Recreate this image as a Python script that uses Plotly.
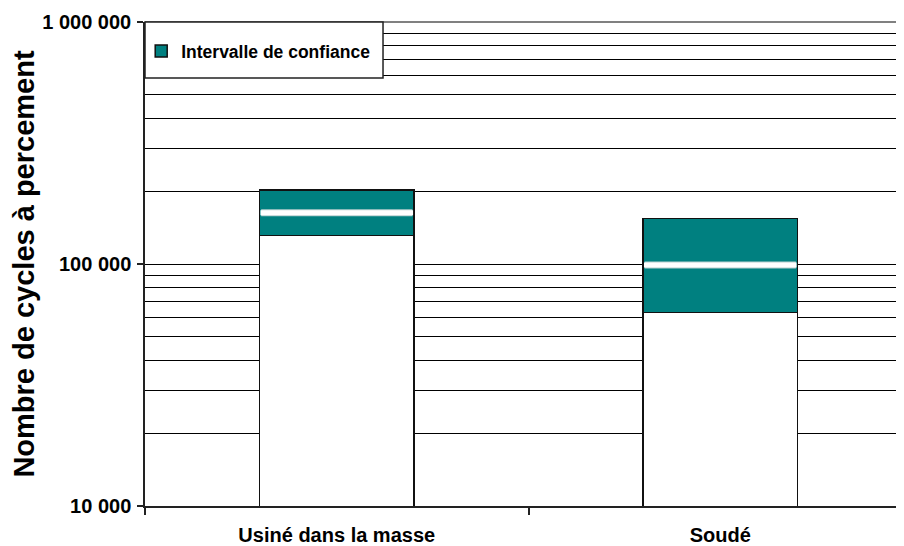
import plotly.graph_objects as go

categories = ["Usiné dans la masse", "Soudé"]
lower_bound = [131000, 63000]
mean_value = [163000, 99000]
upper_bound = [202000, 154000]
legend_label = "Intervalle de confiance"
y_title = "Nombre de cycles à percement"
y_major = [10000, 100000, 1000000]
y_major_text = ["10 000", "100 000", "1 000 000"]

teal = "#008080"
font_family = "Arial, Liberation Sans, sans-serif"
bargap = 0.598

interval = [u - l for u, l in zip(upper_bound, lower_bound)]

fig = go.Figure()
fig.add_trace(go.Bar(
    x=categories, y=lower_bound, showlegend=False,
    marker=dict(color="white", line=dict(color="#111111", width=1.5)),
    hoverinfo="skip",
))
fig.add_trace(go.Bar(
    x=categories, y=interval, name=legend_label,
    marker=dict(color=teal, line=dict(color="#111111", width=1.5)),
))
# mean markers (white horizontal dash across each bar)
fig.add_trace(go.Scatter(
    x=categories, y=mean_value, mode="markers", showlegend=False, hoverinfo="skip",
    marker=dict(symbol="line-ew", size=108, color="white",
                line=dict(color="#b9cfcf", width=7)),
))
fig.add_trace(go.Scatter(
    x=categories, y=mean_value, mode="markers", showlegend=False, hoverinfo="skip",
    marker=dict(symbol="line-ew", size=109, color="white",
                line=dict(color="white", width=5)),
))

# top grid line (grey)
fig.add_shape(type="line", xref="paper", yref="paper", x0=0, x1=1, y0=1, y1=1,
              line=dict(color="#808080", width=2), layer="below")

# legend box
fig.add_shape(type="rect", xref="paper", yref="paper",
              x0=0, x1=0.3136, y0=0.8843, y1=1,
              fillcolor="white", line=dict(color="#222222", width=1.5), layer="above")

minor_vals = []
for d in (10000, 100000):
    for k in range(2, 10):
        minor_vals.append(k * d)
minor_vals.append(100000)

fig.update_layout(
    width=896, height=538,
    margin=dict(l=137, r=0, t=14, b=40),
    paper_bgcolor="white", plot_bgcolor="white",
    barmode="stack", bargap=bargap,
    font=dict(family=font_family, color="black", weight="bold"),
    showlegend=True,
    legend=dict(x=-0.005, y=0.94, xanchor="left", yanchor="middle",
                bgcolor="rgba(0,0,0,0)", borderwidth=0,
                font=dict(size=17.5, family=font_family, weight="bold")),
    xaxis=dict(
        type="category", range=[-0.5, 1.479], automargin=False,
        showline=True, linecolor="#222222", linewidth=1.5,
        ticks="outside", tickson="boundaries", ticklen=7, tickcolor="#222222", tickwidth=1.5,
        showgrid=False, ticklabelstandoff=10,
        tickfont=dict(size=20, family=font_family, weight="bold"),
    ),
    yaxis=dict(
        type="log", range=[4, 6], automargin=False,
        tickvals=y_major, ticktext=y_major_text,
        showline=True, linecolor="#222222", linewidth=1.5,
        ticks="outside", ticklen=6, tickcolor="#222222", tickwidth=1.5,
        showgrid=False, zeroline=False, ticklabelstandoff=2,
        tickfont=dict(size=20, family=font_family, weight="bold"),
        title=dict(text=y_title, standoff=10,
                   font=dict(size=29, family=font_family, weight="bold")),
        minor=dict(tickvals=minor_vals, showgrid=True, gridcolor="black",
                   gridwidth=1, ticks=""),
    ),
)

fig.write_html("out.html")
